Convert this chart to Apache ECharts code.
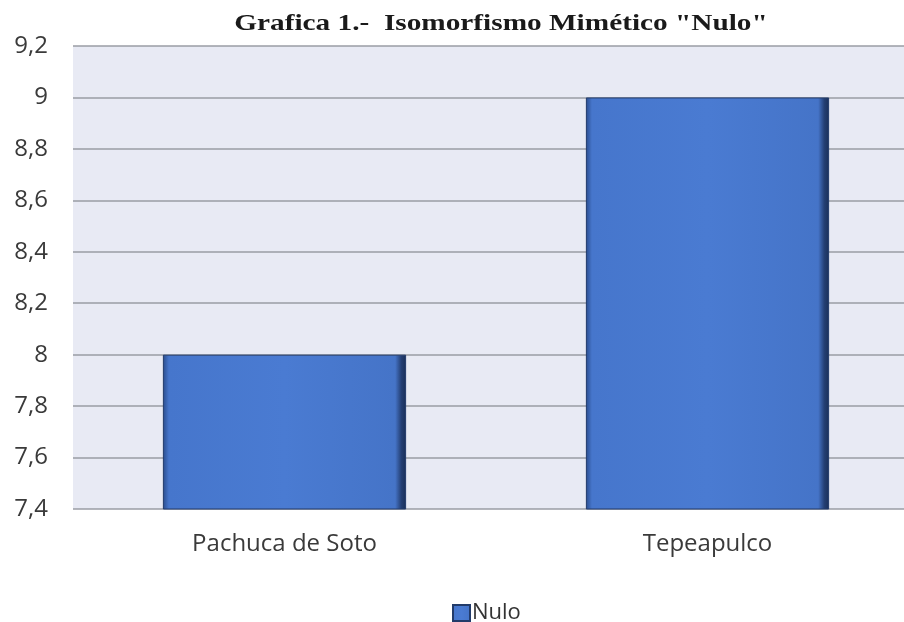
<!DOCTYPE html>
<html>
<head>
<meta charset="utf-8">
<script src="https://cdn.jsdelivr.net/npm/echarts@6/dist/echarts.min.js"></script>
<style>
html,body{margin:0;padding:0;background:#fff;}
#chart{width:904px;height:622px;}
</style>
</head>
<body>
<div id="chart"></div>
<script>
const titleText = 'Grafica 1.-  Isomorfismo Mimético "Nulo"';
const categories = ['Pachuca de Soto', 'Tepeapulco'];
const seriesName = 'Nulo';
const nuloValues = [8, 9];
const yMin = 7.4, yMax = 9.2, yStep = 0.2;

const chart = echarts.init(document.getElementById('chart'));
const barFill = new echarts.graphic.LinearGradient(0, 0, 1, 0, [
  { offset: 0, color: '#2a4c8c' },
  { offset: 0.025, color: '#4676cc' },
  { offset: 0.5, color: '#4a7bd2' },
  { offset: 0.955, color: '#4574c8' },
  { offset: 0.98, color: '#243f74' },
  { offset: 1, color: '#1a2f58' }
]);

chart.setOption({
  animation: false,
  backgroundColor: '#ffffff',
  graphic: [{
    type: 'text',
    x: 501, y: 24,
    scaleX: 1.22,
    style: {
      text: titleText,
      fontFamily: 'Liberation Serif', fontWeight: 'bold', fontSize: 24,
      fill: '#1a1a1a', align: 'center', verticalAlign: 'middle'
    }
  }],
  legend: {
    data: [seriesName],
    left: 452, top: 602, padding: 0,
    itemWidth: 17, itemHeight: 16, itemGap: 4,
    icon: 'rect',
    textStyle: { fontFamily: 'Open Sans', fontSize: 22, color: '#333', padding: [0, 0, 0, -3] }
  },
  grid: {
    left: 73, width: 846, top: 46, bottom: 113,
    outerBoundsMode: 'none',
    show: true, backgroundColor: '#e8eaf4', borderWidth: 0
  },
  xAxis: {
    type: 'category', data: categories,
    axisLine: { show: false }, axisTick: { show: false },
    axisLabel: { margin: 23, fontFamily: 'Open Sans', fontSize: 24, color: '#3a3a3a' }
  },
  yAxis: {
    type: 'value', min: yMin, max: yMax, interval: yStep,
    axisLine: { show: false }, axisTick: { show: false },
    axisLabel: {
      margin: 25, fontFamily: 'Open Sans', fontSize: 24, color: '#3a3a3a',
      formatter: v => String(+v.toFixed(1)).replace('.', ',')
    },
    splitLine: { lineStyle: { color: '#9a9ca4', width: 1.5 } }
  },
  series: [{
    name: seriesName, type: 'bar', data: nuloValues,
    barWidth: '57.5%',
    itemStyle: { color: barFill, borderColor: '#223b6a', borderWidth: 1 }
  }]
});
</script>
</body>
</html>
